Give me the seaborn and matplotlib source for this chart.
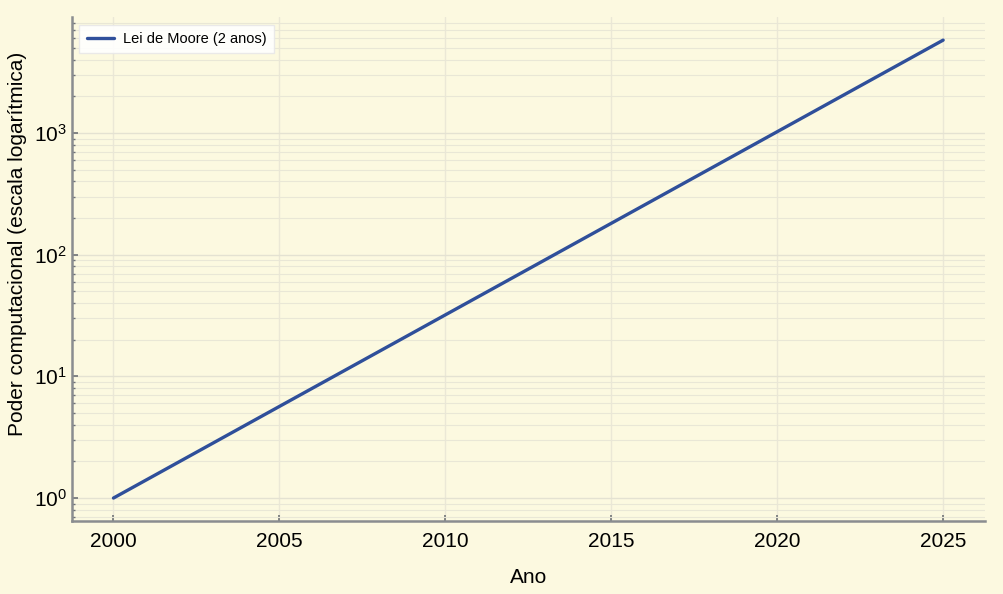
import numpy as np
import pandas as pd
import seaborn as sns
import matplotlib
matplotlib.use("Agg")
import matplotlib.pyplot as plt
from matplotlib.ticker import LogLocator, NullFormatter

# values (doubling every 2 years)
anos = [2000, 2005, 2010, 2015, 2020, 2025]
poder = [1.0, 5.66, 32.0, 181.0, 1024.0, 5793.0]
serie = "Lei de Moore (2 anos)"

df = pd.DataFrame({"Ano": anos, "Poder": poder})

bg = "#fcf9e0"
sns.set_theme(style="ticks")
plt.rcParams["font.family"] = ["Liberation Sans", "DejaVu Sans"]
plt.rcParams["text.color"] = "black"

fig = plt.figure(figsize=(10.04, 5.94), dpi=100, facecolor=bg)
ax = fig.add_axes([0.0717, 0.123, 0.909, 0.848])
ax.set_facecolor(bg)

sns.lineplot(data=df, x="Ano", y="Poder", ax=ax, color="#2f4f9a",
             linewidth=2.4, label=serie)
ax.set_yscale("log")
ax.yaxis.set_major_locator(LogLocator(base=10, numticks=10))
ax.yaxis.set_minor_locator(LogLocator(base=10, subs=np.arange(2, 10), numticks=20))
ax.yaxis.set_minor_formatter(NullFormatter())
ax.set_xticks([2000, 2005, 2010, 2015, 2020, 2025])

ax.grid(True, which="major", axis="x", color="#ebe8d6", linewidth=1.0)
ax.grid(True, which="major", axis="y", color="#e4e2d2", linewidth=1.0)
ax.grid(True, which="minor", axis="y", color="#e9e7d6", linewidth=0.8)

for s in ["top", "right"]:
    ax.spines[s].set_visible(False)
for s in ["left", "bottom"]:
    ax.spines[s].set_color("#8a8d90")
    ax.spines[s].set_linewidth(1.8)

ax.tick_params(which="both", direction="in", colors="#6f7275", labelcolor="black",
               labelsize=15)
ax.tick_params(which="major", length=4, width=1.2)
ax.tick_params(which="minor", length=2, width=1.0)
ax.tick_params(axis="x", which="major", pad=8)
ax.tick_params(axis="y", which="major", pad=3.5)

ax.set_xlabel("Ano", fontsize=15, labelpad=12, color="black")
ax.set_ylabel("Poder computacional (escala logarítmica)", fontsize=15, color="black")
ax.yaxis.set_label_coords(-0.049, 0.55)

leg = ax.legend(loc="upper left", fontsize=10.5, frameon=True, fancybox=False,
                borderpad=0.5, handlelength=1.9, handletextpad=0.6)
leg.get_frame().set_facecolor("white")
leg.get_frame().set_edgecolor("#e8e8e8")
leg.get_frame().set_alpha(0.9)
for t in leg.get_texts():
    t.set_color("black")

fig.savefig("out.png", dpi=100, facecolor=bg)
